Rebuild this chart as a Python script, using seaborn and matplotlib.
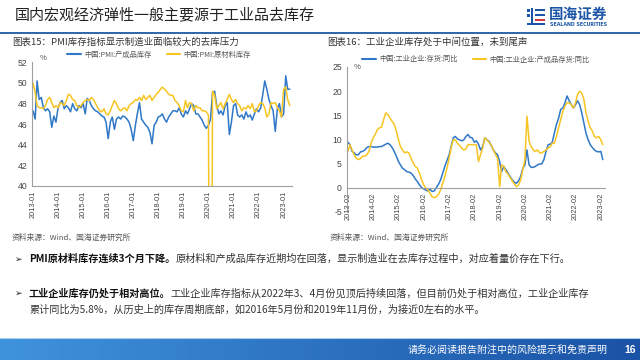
import numpy as np
import pandas as pd
import matplotlib
matplotlib.use("Agg")
import matplotlib.pyplot as plt
import matplotlib.dates as mdates
from matplotlib.patches import Rectangle
from matplotlib.lines import Line2D
import seaborn as sns

sns.set_theme(style="white")
plt.rcParams['font.family'] = ['Noto Sans CJK SC', 'DejaVu Sans']
plt.rcParams['axes.unicode_minus'] = False

# ---------------- data ----------------
pmi_series = ["中国:PMI:产成品库存", "中国:PMI:原材料库存"]
pmi_start = "2013-01-01"
pmi_finished = [
    47.3, 46.5, 50.2, 48.4, 48.6, 47.6, 47.3, 47.5, 47.2, 45.7, 46.8, 46.2,
    47.6, 48.1, 48.3, 47.5, 47.8, 47.6, 47.2, 48.0, 47.5, 47.3, 47.8, 47.6,
    48.0, 47.0, 48.5, 48.3, 47.8, 47.5, 47.3, 47.2, 47.0, 46.8, 46.7, 46.2,
    44.6, 46.2, 46.7, 45.5, 46.5, 46.7, 46.5, 46.8, 46.7, 46.5, 46.2, 45.5,
    44.4, 45.9, 47.0, 48.1, 46.5, 46.2, 45.9, 45.7, 45.2, 44.1, 45.9, 46.2,
    46.7, 46.8, 47.0, 46.5, 46.2, 46.7, 47.0, 47.3,
    47.3, 47.2, 47.6, 47.0, 46.7, 47.3, 47.0, 47.5, 48.0, 47.8, 47.0, 47.0,
    46.7, 46.4, 45.9, 45.6, 45.9, 46.5, 49.1, 49.2, 47.8, 47.0, 47.3, 46.9,
    47.8, 48.1, 45.0, 46.2, 47.8, 48.0, 46.9, 46.7, 46.9, 46.5, 47.2, 46.7,
    46.9, 46.4, 47.0, 47.5, 47.2, 47.6, 48.8, 50.2, 49.4, 48.4, 47.8, 47.3,
    45.3, 47.5, 48.0, 46.7, 47.0, 50.7, 49.4, 49.4,
]
pmi_raw = [
    50.0, 49.1, 47.8, 47.6, 47.6, 47.5, 47.8, 48.4, 48.6, 48.1, 47.6, 47.8,
    47.6, 48.1, 48.0, 47.8, 48.3, 48.9, 48.8, 48.4, 48.3, 47.8, 47.6, 47.8,
    48.1, 48.3, 48.4, 48.3, 48.6, 48.4, 48.0, 47.6, 47.3, 47.2, 47.5, 47.0,
    46.9, 47.3, 47.8, 48.3, 48.0, 47.5, 47.3, 47.5, 47.6, 47.3, 47.8, 48.0,
    48.1, 48.4, 48.3, 48.6, 48.3, 48.8, 48.4, 48.6, 48.8, 48.3, 48.6, 48.9,
    49.1, 49.4, 49.6, 49.4, 49.2, 48.9, 48.8, 48.8,
    48.3, 48.1, 47.8, 47.3, 47.2, 48.3, 47.6, 48.1, 48.0, 47.3, 47.8, 47.6,
    47.6, 47.3, 47.3, 47.2, 46.9, 0.0,
    49.2, 48.8, 47.5, 47.8, 48.1, 47.5, 48.0, 48.4, 48.9, 48.4, 48.1, 48.4,
    48.0, 47.8, 47.3, 47.6, 47.5, 47.8, 47.5, 48.0, 47.2, 47.3, 47.8, 48.1,
    48.0, 47.6, 46.7, 47.0, 48.1, 48.0, 48.1, 47.6, 47.3, 46.7, 49.4, 49.6,
    48.4, 47.8,
]

ind_series = ["中国:工业企业:存货:同比", "中国:工业企业:产成品存货:同比"]
ind_start = "2013-02-01"
ind_inventory = [
    9.4, 8.9, 7.5, 7.2, 6.8, 6.8, 7.4, 7.5, 7.8, 8.3, 8.5, 8.5,
    8.4, 8.4, 8.4, 8.5, 8.5, 8.75, 9.0, 9.2, 8.9, 8.3, 7.5, 6.5,
    5.4, 4.7, 4.0, 3.7, 3.3, 3.2, 3.0, 2.5, 1.8, 1.25, 0.55, 0.0,
    -0.3, -0.5, -0.7, -0.35, -0.8, -0.7, 0.0, 0.7, 1.6, 3.0, 4.4, 5.6,
    6.8, 8.5, 10.3, 10.6, 10.1, 9.9, 9.7, 9.9, 10.6, 11.0, 10.4, 10.3,
    9.4, 9.7, 9.0, 7.8, 8.5,
    10.3, 9.9, 9.6, 8.75, 7.8, 7.2, 6.8, 5.4, 3.3, 4.4, 3.7, 3.0,
    2.3, 1.6, 1.1, 0.9, 1.4, 2.3, 4.0, 4.7, 7.8, 4.7, 4.2, 4.2,
    4.4, 4.7, 4.9, 4.9, 5.8, 7.5, 8.9, 9.0, 9.4, 11.3, 13.1, 14.4,
    16.2, 16.5, 17.6, 19.0, 18.0, 17.2, 16.5, 17.2, 18.0, 17.2, 15.5, 13.4,
    11.3, 9.9, 8.9, 8.3, 7.8, 7.5, 7.4, 7.5, 5.8,
]
ind_finished = [
    7.5, 8.9, 7.8, 6.8, 6.1, 5.8, 6.0, 6.5, 6.5, 6.8, 7.5, 9.2,
    10.3, 11.0, 12.0, 12.4, 12.5, 14.1, 15.5, 15.1, 14.4, 13.75, 13.1, 11.7,
    9.9, 8.5, 7.8, 7.2, 7.4, 7.2, 6.1, 5.1, 4.4, 4.0, 3.0, 1.6,
    0.55, -0.1, -0.5, -1.2, -1.9, -2.1, -1.9, -1.4, -0.5, 0.9, 2.3, 4.0,
    6.1, 8.2, 9.9, 9.9, 9.2, 8.75, 8.2, 7.8, 8.0, 8.9, 8.9, 8.9,
    8.9, 8.9, 5.4, 6.8, 8.2,
    10.3, 9.9, 9.4, 8.9, 7.8, 6.9, 6.1, 0.2, 4.7, 4.4, 3.3, 2.8,
    2.1, 1.4, 0.7, 0.2, 0.55, 1.6, 3.7, 5.8, 14.8, 9.6, 8.5, 7.8,
    7.5, 7.8, 7.2, 7.2, 7.5, 7.8, 8.2, 8.5, 9.2, 9.2, 10.6, 12.4,
    14.1, 15.8, 16.9, 17.6, 17.6, 17.2, 16.5, 17.6, 19.3, 20.0, 19.6, 18.3,
    15.5, 13.75, 12.4, 11.7, 10.6, 10.3, 10.6, 9.9, 8.9,
]

BLUE = "#2f78c8"
YELLOW = "#f6c522"

pmi_dates = pd.date_range(pmi_start, periods=len(pmi_finished), freq="MS")
ind_dates = pd.date_range(ind_start, periods=len(ind_inventory), freq="MS")

df1 = pd.concat([
    pd.DataFrame({"date": pmi_dates, "value": pmi_finished, "series": pmi_series[0]}),
    pd.DataFrame({"date": pmi_dates, "value": pmi_raw, "series": pmi_series[1]}),
])
df2 = pd.concat([
    pd.DataFrame({"date": ind_dates, "value": ind_inventory, "series": ind_series[0]}),
    pd.DataFrame({"date": ind_dates, "value": ind_finished, "series": ind_series[1]}),
])

# ---------------- figure ----------------
W, H = 640, 360
fig = plt.figure(figsize=(6.4, 3.6), dpi=100)
fig.patch.set_facecolor("white")

def fx(x):
    return x / W

def fy(y):
    return 1 - y / H

bg = fig.add_axes([0, 0, 1, 1])
bg.set_xlim(0, W)
bg.set_ylim(H, 0)
bg.axis("off")

TXT = "#222222"
GREY = "#555555"
SPINE = "#a0a0a0"

# header
bg.text(15, 15, "国内宏观经济弹性一般主要源于工业品去库存", fontsize=10.8, color=TXT,
        va="center", ha="left")
bg.plot([0, W], [33, 33], color="#1f57a3", lw=1.3, solid_capstyle="butt")

# logo
LOGO = "#1d55a6"
bg.add_patch(Rectangle((527, 9), 3, 3, color=LOGO, lw=0))
bg.add_patch(Rectangle((527, 14), 3, 3, color=LOGO, lw=0))
bg.add_patch(Rectangle((531, 8), 2.2, 16, color=LOGO, lw=0))
bg.add_patch(Rectangle((535, 9), 10, 2.2, color=LOGO, lw=0))
bg.add_patch(Rectangle((535, 14), 10, 2.2, color=LOGO, lw=0))
bg.add_patch(Rectangle((535, 19), 10, 2.2, color="#d63b3b", lw=0))
bg.add_patch(Rectangle((527, 22.5), 18, 2, color=LOGO, lw=0))
bg.text(549, 13.5, "国海证券", fontsize=10.5, fontweight="bold", color=LOGO,
        va="center", ha="left")
bg.text(549.5, 24.5, "SEALAND SECURITIES", fontsize=3.4, fontweight="bold",
        color=LOGO, va="center", ha="left", family=["DejaVu Sans"])

# chart titles
bg.text(12, 42, "图表15：PMI库存指标显示制造业面临较大的去库压力", fontsize=6.8,
        color="#333333", va="center", ha="left")
bg.text(327, 42, "图表16：工业企业库存处于中间位置，未到尾声", fontsize=6.8,
        color="#333333", va="center", ha="left")

# ---------------- left chart ----------------
ax1 = fig.add_axes([fx(32), fy(186), 260 / W, (186 - 62.4) / H])
sns.lineplot(data=df1, x="date", y="value", hue="series", hue_order=pmi_series,
             palette=[BLUE, YELLOW], linewidth=1.1, ax=ax1, legend=False)
ax1.set_ylim(40, 52)
ax1.set_yticks(np.arange(40, 53, 2))
ax1.set_xlim(pmi_dates[0] - pd.Timedelta(days=15), pmi_dates[-1] + pd.Timedelta(days=32))
ax1.xaxis.set_major_locator(mdates.MonthLocator(bymonth=1))
ax1.xaxis.set_major_formatter(mdates.DateFormatter("%Y-%m"))

# ---------------- right chart ----------------
ax2 = fig.add_axes([fx(346.7), fy(211.7), (605 - 346.7) / W, (211.7 - 67) / H])
sns.lineplot(data=df2, x="date", y="value", hue="series", hue_order=ind_series,
             palette=[BLUE, YELLOW], linewidth=1.1, ax=ax2, legend=False)
ax2.set_ylim(-5, 25)
ax2.set_yticks(np.arange(-5, 26, 5))
ax2.set_xlim(ind_dates[0] - pd.Timedelta(days=18), ind_dates[-1] + pd.Timedelta(days=32))
ax2.xaxis.set_major_locator(mdates.MonthLocator(bymonth=2))
ax2.xaxis.set_major_formatter(mdates.DateFormatter("%Y-%m"))
ax2.spines["bottom"].set_position(("data", 0))

for ax in (ax1, ax2):
    ax.set_facecolor("none")
    ax.set_xlabel("")
    ax.set_ylabel("")
    for s in ("top", "right"):
        ax.spines[s].set_visible(False)
    for s in ("left", "bottom"):
        ax.spines[s].set_color(SPINE)
        ax.spines[s].set_linewidth(0.8)
    ax.tick_params(axis="both", which="major", direction="out", length=2,
                   width=0.6, color=SPINE, pad=1.5)
    ax.tick_params(axis="y", labelsize=6.2, labelcolor="#444444")
    ax.tick_params(axis="x", labelsize=5.3, labelcolor="#444444", rotation=90)
    for lab in ax.get_xticklabels() + ax.get_yticklabels():
        lab.set_family(["Liberation Sans", "DejaVu Sans"])
    ax.grid(False)

bg.text(43, 58.5, "%", fontsize=5.5, color="#444444", ha="center", va="center")
bg.text(357, 67, "%", fontsize=5.5, color="#444444", ha="center", va="center")

# legends
leg_kw = dict(frameon=False, ncol=2, fontsize=5.2, handlelength=1.9,
              handletextpad=0.45, columnspacing=2.1, borderpad=0,
              borderaxespad=0, loc="center left", bbox_transform=fig.transFigure,
              labelcolor="#555555")
h1 = [Line2D([], [], color=BLUE, lw=1.5), Line2D([], [], color=YELLOW, lw=1.5)]
ax1.legend(h1, pmi_series, bbox_to_anchor=(fx(67), fy(54.5)), **leg_kw)
ax2.legend(h1, ind_series, bbox_to_anchor=(fx(362), fy(59.5)), **leg_kw)

# sources
bg.text(12, 238, "资料来源：Wind、国海证券研究所", fontsize=5.6, color=GREY,
        va="center", ha="left")
bg.text(330, 238, "资料来源：Wind、国海证券研究所", fontsize=5.6, color=GREY,
        va="center", ha="left")

# bullets
BODY = 7.3
bg.text(15, 259, "➢", fontsize=6.5, color=TXT, va="center", ha="left",
        family=["DejaVu Sans"])
b1 = bg.text(29, 259, "PMI原材料库存连续3个月下降。", fontsize=BODY, fontweight="bold",
             color="#111111", va="center", ha="left")
bg.annotate("原材料和产成品库存近期均在回落，显示制造业在去库存过程中，对应着量价存在下行。",
            xy=(1, 0.5), xycoords=b1, va="center", ha="left", fontsize=BODY,
            color="#333333")

bg.text(15, 293.5, "➢", fontsize=6.5, color=TXT, va="center", ha="left",
        family=["DejaVu Sans"])
b2 = bg.text(29, 293.5, "工业企业库存仍处于相对高位。", fontsize=BODY, fontweight="bold",
             color="#111111", va="center", ha="left")
bg.annotate("工业企业库存指标从2022年3、4月份见顶后持续回落，但目前仍处于相对高位，工业企业库存",
            xy=(1, 0.5), xycoords=b2, va="center", ha="left", fontsize=BODY,
            color="#333333")
bg.text(29, 310, "累计同比为5.8%，从历史上的库存周期底部，如2016年5月份和2019年11月份，为接近0左右的水平。",
        fontsize=BODY, color="#333333", va="center", ha="left")

# footer bar
axf = fig.add_axes([0, 0, 1, 22 / H])
c0 = np.array(matplotlib.colors.to_rgb("#3f93dc"))
c1 = np.array(matplotlib.colors.to_rgb("#1a52a6"))
t = np.linspace(0, 1, 256)[None, :, None]
grad = c0 * (1 - t) + c1 * t
axf.imshow(grad, aspect="auto", extent=[0, 1, 0, 1])
axf.axhline(1, color="#a9cdf0", lw=0.8)
axf.set_xlim(0, 1)
axf.set_ylim(0, 1)
axf.axis("off")
axf.text(608 / W, 0.45, "请务必阅读报告附注中的风险提示和免责声明", fontsize=7.2,
         color="white", ha="right", va="center")
axf.text(630 / W, 0.45, "16", fontsize=7.5, color="white", ha="center", va="center",
         fontweight="bold", family=["Liberation Sans", "DejaVu Sans"])

fig.savefig("out.png", dpi=100, facecolor="white")
